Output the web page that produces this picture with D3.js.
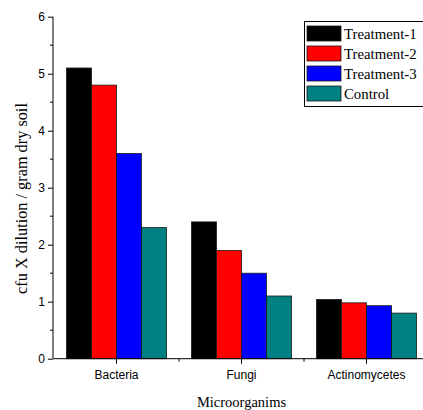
<!DOCTYPE html>
<html><head><meta charset="utf-8">
<script src="https://cdn.jsdelivr.net/npm/d3@7"></script>
<style>body{margin:0;background:#fff}svg{display:block}</style>
</head><body>
<svg id="c" width="423" height="410"></svg>
<script>
const categories = ["Bacteria", "Fungi", "Actinomycetes"];
const seriesNames = ["Treatment-1", "Treatment-2", "Treatment-3", "Control"];
const treatment1 = [5.1, 2.4, 1.04];
const treatment2 = [4.8, 1.9, 0.98];
const treatment3 = [3.6, 1.5, 0.93];
const control = [2.3, 1.1, 0.8];
const colors = ["#000000", "#ff0000", "#0000ff", "#008080"];
const yTicks = [0, 1, 2, 3, 4, 5, 6];
const series = [treatment1, treatment2, treatment3, control];

const svg = d3.select("#c");
const x0 = 54, x1 = 429, yBottom = 358.7, yTop = 16.7;
const x = d3.scaleBand().domain(categories).range([x0, x1]).paddingInner(0.2).paddingOuter(0.1);
const xs = d3.scaleBand().domain(seriesNames).range([0, x.bandwidth()]);
const y = d3.scaleLinear().domain([0, 6]).range([yBottom, yTop]);

// bars
categories.forEach((c, ci) => {
  series.forEach((s, si) => {
    svg.append("rect")
      .attr("x", x(c) + xs(seriesNames[si]))
      .attr("y", y(s[ci]))
      .attr("width", xs.bandwidth())
      .attr("height", y(0) - y(s[ci]))
      .attr("fill", colors[si])
      .attr("stroke", "#1a1a1a").attr("stroke-width", 0.8);
  });
});

// y axis
const yAxis = d3.axisLeft(y).tickValues(yTicks).tickSize(5).tickPadding(3).tickFormat(d3.format("d"));
const gy = svg.append("g").attr("transform", `translate(${x0 - 1},0)`).call(yAxis);
gy.select(".domain").attr("d", `M0,${yBottom}V${yTop}`).attr("stroke", "#000");
gy.selectAll("text").attr("font-family", "Arial, 'Liberation Sans', sans-serif").attr("font-size", 12).attr("fill", "#000");
gy.selectAll(".minor").data(d3.range(0.5, 6, 1)).enter().append("line")
  .attr("x1", 0).attr("x2", -3).attr("y1", d => y(d)).attr("y2", d => y(d)).attr("stroke", "#000");

// x axis
const xAxis = d3.axisBottom(x).tickSize(5).tickPadding(7).tickSizeOuter(0);
const gx = svg.append("g").attr("transform", `translate(0,${yBottom})`).call(xAxis);
gx.select(".domain").attr("d", `M${x0 - 1},0H${x1}`).attr("stroke", "#000");
gx.selectAll("text").attr("font-family", "Arial, 'Liberation Sans', sans-serif").attr("font-size", 12).attr("fill", "#000");
const step = x.step();
gx.selectAll(".minorx").data(categories.slice(0, -1)).enter().append("line")
  .attr("x1", d => x(d) + x.bandwidth() / 2 + step / 2)
  .attr("x2", d => x(d) + x.bandwidth() / 2 + step / 2)
  .attr("y1", 0).attr("y2", 3).attr("stroke", "#000");

// axis titles
svg.append("text").attr("x", (x0 + x1) / 2 - 0).attr("y", 407)
  .attr("text-anchor", "middle").attr("font-family", "'Liberation Serif', 'Times New Roman', serif")
  .attr("font-size", 14.5).text("Microorganims");
svg.append("text").attr("transform", `translate(27,198.5) rotate(-90)`)
  .attr("text-anchor", "middle").attr("font-family", "'Liberation Serif', 'Times New Roman', serif")
  .attr("font-size", 16.3).text("cfu X dilution / gram dry soil");

// legend
const lg = svg.append("g");
lg.append("rect").attr("x", 304.5).attr("y", 21.5).attr("width", 119).attr("height", 85)
  .attr("fill", "#fff").attr("stroke", "#000").attr("stroke-width", 1);
seriesNames.forEach((n, i) => {
  const yy = 26 + i * 20;
  lg.append("rect").attr("x", 307).attr("y", yy).attr("width", 34).attr("height", 15)
    .attr("fill", colors[i]).attr("stroke", "#1a1a1a").attr("stroke-width", 0.8);
  lg.append("text").attr("x", 344).attr("y", yy + 12.5)
    .attr("font-family", "'Liberation Serif', 'Times New Roman', serif").attr("font-size", 14.8).text(n);
});
</script>
</body></html>
